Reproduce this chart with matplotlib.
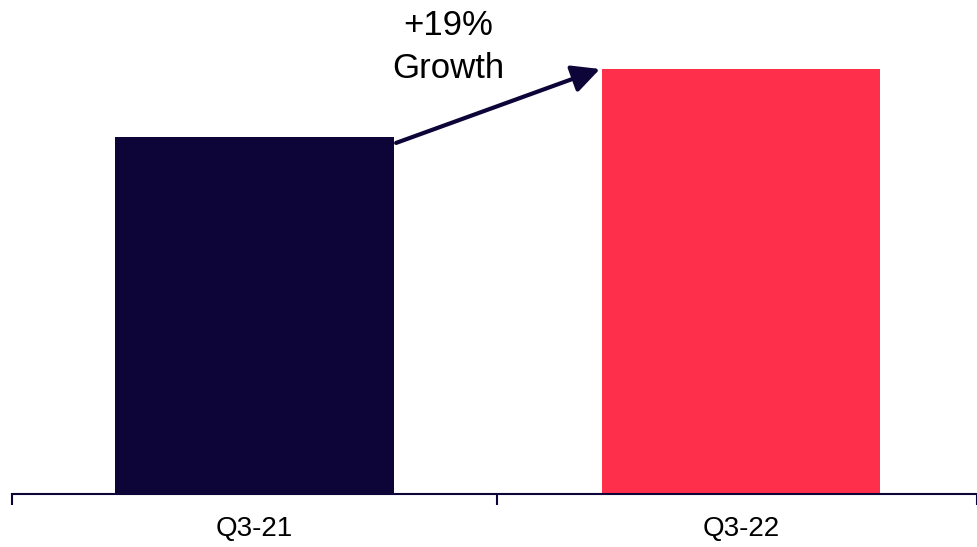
import matplotlib.pyplot as plt

categories = ["Q3-21", "Q3-22"]
values = [100, 119]
colors = ["#0d0538", "#fe2f4a"]
growth_label = "+19%\nGrowth"

plt.rcParams["font.family"] = ["Liberation Sans", "DejaVu Sans"]

fig = plt.figure(figsize=(9.78, 5.47), dpi=100)
ax = fig.add_axes([12 / 978, 53 / 547, 965 / 978, 494 / 547])

x = list(range(len(categories)))
ax.bar(x, values, width=0.573, color=colors)

ax.set_xlim(-0.4985, 1.485)
ax.set_ylim(0, values[1] * 494 / 425)

ax.set_xticks([-0.4985, 0.4985, 1.485])
ax.set_xticklabels([])
ax.set_xticks(x, minor=True)
ax.set_xticklabels(categories, minor=True, fontsize=20)
ax.tick_params(axis="x", which="major", length=8, width=1.5, color="#0d0538")
ax.tick_params(axis="x", which="minor", length=0, pad=16)

ax.set_yticks([])
for s in ["top", "right", "left"]:
    ax.spines[s].set_visible(False)
ax.spines["bottom"].set_color("#0d0538")
ax.spines["bottom"].set_linewidth(1.5)

# growth arrow from bar 1 top corner to bar 2 top corner
ax.annotate("", xy=(0.710, values[1]), xytext=(0.291, values[0] * 0.983),
            arrowprops=dict(arrowstyle="-|>,head_length=1.2,head_width=0.6",
                            mutation_scale=14, color="#0d0538", lw=3,
                            shrinkA=0, shrinkB=0))
fig.text(448 / 978, 1 - 47 / 547, growth_label, ha="center", va="center",
         fontsize=25, linespacing=1.35)

fig.savefig("out.png", dpi=100)
